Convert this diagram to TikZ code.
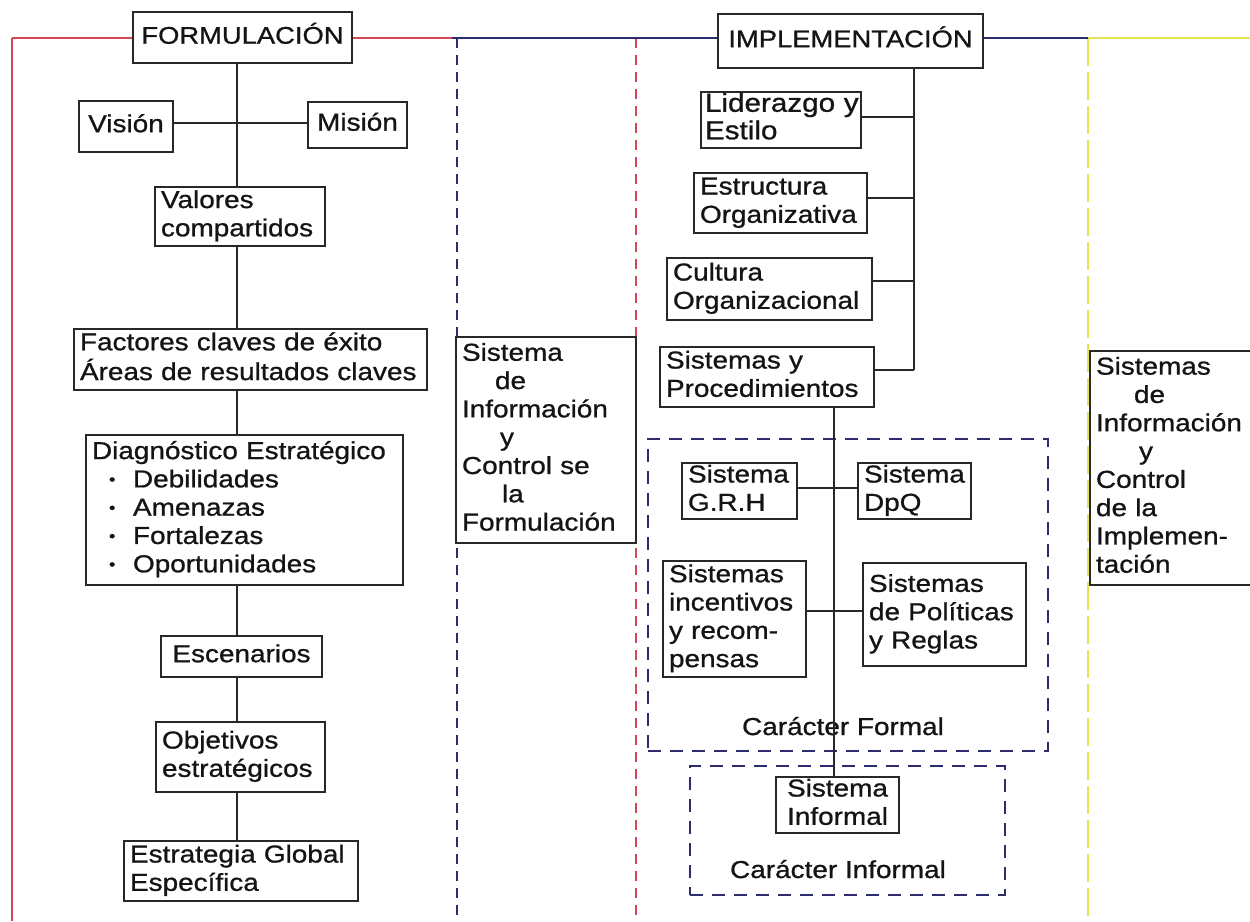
\documentclass[tikz,border=0pt]{standalone}
\usepackage{fontspec}
\setmainfont{Liberation Sans}[FakeStretch=1.14,FakeBold=0.9]
\definecolor{ink}{RGB}{20,20,20}
\definecolor{edge}{RGB}{40,40,40}
\definecolor{redl}{RGB}{215,70,85}
\definecolor{navy}{RGB}{45,45,110}
\definecolor{yell}{RGB}{228,228,80}
\newcommand\mybox[8][]{%
 \pgfmathsetmacro\bxX{(#4+#6)/2}%
 \pgfmathsetmacro\bxY{(#5+#7)/2}%
 \pgfmathsetmacro\bxW{#6-#4-12}%
 \pgfmathsetmacro\bxH{#7-#5}%
 \node[boxst, al/#3, text width=\bxW pt, minimum height=\bxH pt, #1] (#2) at (\bxX,\bxY) {\begin{tabular}{@{}#3@{}}#8\end{tabular}};}
\newcommand\bul{\hspace*{17pt}\makebox[24pt][l]{\fontsize{16}{16}\selectfont\raisebox{2.5pt}{•}}}
\tikzset{
 x=1pt, y=-1pt,
 al/l/.style={align=left},
 al/c/.style={align=center},
 boxst/.style={draw=edge, line width=1.8pt, fill=white, text=ink, inner xsep=6pt, inner ysep=0pt,
   font=\fontsize{24.5}{28.3}\selectfont},
 bigtext/.style={font=\fontsize{26}{27.5}\selectfont},
 titletext/.style={font=\fontsize{24}{28.3}\selectfont},
 lbl/.style={text=ink, inner sep=0pt, font=\fontsize{24.5}{28.3}\selectfont},
 conn/.style={draw=edge, line width=1.6pt},
 redline/.style={draw=redl, line width=1.6pt},
 navyline/.style={draw=navy, line width=1.6pt},
 yelline/.style={draw=yell, line width=1.8pt},
 bluedash/.style={draw=navy, line width=1.8pt, dash pattern=on 10pt off 7pt},
 reddash/.style={draw=redl, line width=1.8pt, dash pattern=on 10pt off 7pt},
 yeldash/.style={draw=yell, line width=2pt, dash pattern=on 28pt off 6pt},
 groupbox/.style={draw=navy, line width=1.8pt, dash pattern=on 13pt off 9pt, inner sep=0pt},
}
\begin{document}
\begin{tikzpicture}
\useasboundingbox (0,0) rectangle (1250,921);
\clip (0,0) rectangle (1250,921);
\fill[white] (0,0) rectangle (1250,921);

% frame coordinates
\coordinate (tl) at (12,38);
\coordinate (bl) at (12,921);
\coordinate (d1t) at (457,38);
\coordinate (d1b) at (457,921);
\coordinate (d2t) at (636,38);
\coordinate (d2b) at (636,921);
\coordinate (d3t) at (1088,38);
\coordinate (d3b) at (1088,921);
\coordinate (tr) at (1250,38);

% dashed column separators
\draw[bluedash] (d1t) -- (d1b);
\draw[reddash] (d2t) -- (d2b);
\draw[yeldash] (d3t) -- (d3b);
\draw[redline] (tl) -- (bl);

% ---------- FORMULACION ----------
\mybox[titletext]{F}{c}{133}{12}{352}{63}{FORMULACIÓN}
\mybox{Vis}{c}{79}{101}{173}{152}{Visión}
\mybox{Mis}{c}{308}{102}{407}{148}{Misión}
\mybox{Val}{l}{155}{187}{325}{246}{Valores\\compartidos}
\mybox{Fac}{l}{74}{329}{427}{390}{Factores claves de éxito\\Áreas de resultados claves}
\mybox{Diag}{l}{86}{435}{403}{585}{Diagnóstico Estratégico\\\bul Debilidades\\\bul Amenazas\\\bul Fortalezas\\\bul Oportunidades}
\mybox{Esc}{c}{161}{636}{322}{677}{Escenarios}
\mybox{Obj}{l}{156}{722}{325}{792}{Objetivos\\estratégicos}
\mybox{Est}{l}{124}{841}{358}{901}{Estrategia Global\\Específica}

% top line
\coordinate (nv) at (452,38);
\draw[redline] (tl) -- (tl -| F.west);
\draw[redline] (tl -| F.east) -- (nv);

% ---------- Sistema de Informacion (formulacion) ----------
\mybox{SIF}{l}{456}{337}{636}{543}{Sistema\\\hspace*{33pt}de\\Información\\\hspace*{38pt}y\\Control se\\\hspace*{40pt}la\\Formulación}

% ---------- IMPLEMENTACION ----------
\mybox[titletext]{IMP}{c}{718}{14}{983}{68}{IMPLEMENTACIÓN}
\mybox[bigtext, inner xsep=4pt]{Lid}{l}{699}{92}{863}{148}{Liderazgo y\\Estilo}
\mybox{Estr}{l}{694}{173}{867}{233}{Estructura\\Organizativa}
\mybox{Cul}{l}{667}{258}{872}{320}{Cultura\\Organizacional}
\mybox{SyP}{l}{660}{347}{874}{407}{Sistemas y\\Procedimientos}

\draw[navyline] (nv) -- (nv -| IMP.west);
\draw[navyline] (nv -| IMP.east) -- (d3t);
\draw[yelline] (d3t) -- (tr);

% Caracter formal / informal groups
\node[groupbox, minimum width=400pt, minimum height=312pt] (CF) at (848,595) {};
\node[groupbox, minimum width=315pt, minimum height=129pt] (CI) at (847.5,830.5) {};
\node[lbl, anchor=base] (CFl) at (843,735) {Carácter Formal};
\node[lbl, anchor=base] (CIl) at (838,878) {Carácter Informal};

\mybox{GRH}{l}{682}{463}{797}{519}{Sistema\\G.R.H}
\mybox{DpQ}{l}{858}{463}{971}{519}{Sistema\\DpQ}
\mybox{Inc}{l}{663}{561}{806}{677}{Sistemas\\incentivos\\y recom-\\pensas}
\mybox{Pol}{l}{863}{563}{1026}{666}{Sistemas\\de Políticas\\y Reglas}
\mybox{SInf}{c}{776}{777}{899}{833}{Sistema\\Informal}

% ---------- Sistemas de Informacion (implementacion) ----------
\mybox{SII}{l}{1090}{351}{1264}{585}{Sistemas\\\hspace*{38pt}de\\Información\\\hspace*{43pt}y\\Control\\de la\\Implemen-\\tación}

% ---------- connectors: formulacion ----------
\coordinate (sp) at (237,0);
\coordinate (vm) at (237,123);
\draw[conn] (F.south -| sp) -- (Val.north -| sp);
\draw[conn] (Vis.east |- vm) -- (Mis.west |- vm);
\draw[conn] (Val.south -| sp) -- (Fac.north -| sp);
\draw[conn] (Fac.south -| sp) -- (Diag.north -| sp);
\draw[conn] (Diag.south -| sp) -- (Esc.north -| sp);
\draw[conn] (Esc.south -| sp) -- (Obj.north -| sp);
\draw[conn] (Obj.south -| sp) -- (Est.north -| sp);

% ---------- connectors: implementacion ----------
\coordinate (b1) at (914,117);
\coordinate (b2) at (914,198);
\coordinate (b3) at (914,281);
\coordinate (b4) at (914,370);
\draw[conn] (IMP.south -| b1) -- (b4);
\draw[conn] (Lid.east |- b1) -- (b1);
\draw[conn] (Estr.east |- b2) -- (b2);
\draw[conn] (Cul.east |- b3) -- (b3);
\draw[conn] (SyP.east |- b4) -- (b4);

\coordinate (fsp) at (834,0);
\coordinate (g1) at (834,488);
\coordinate (g2) at (834,611);
\draw[conn] (SyP.south -| fsp) -- (SInf.north -| fsp);
\draw[conn] (GRH.east |- g1) -- (DpQ.west |- g1);
\draw[conn] (Inc.east |- g2) -- (Pol.west |- g2);
\end{tikzpicture}
\end{document}
